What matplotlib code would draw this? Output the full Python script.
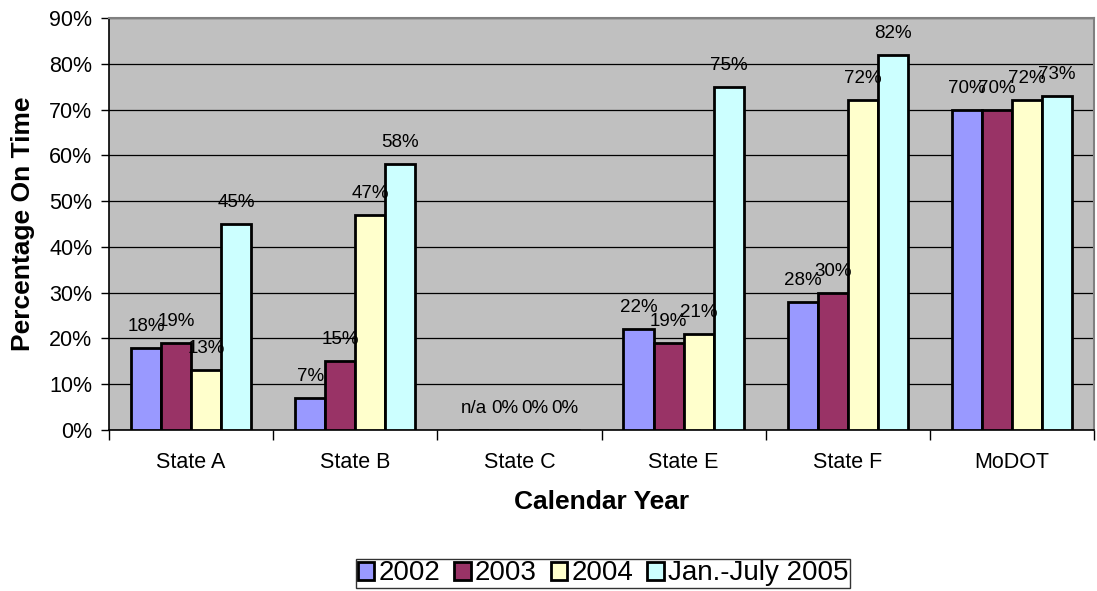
import matplotlib
matplotlib.use("Agg")
import matplotlib.pyplot as plt
import numpy as np
from matplotlib.ticker import FixedLocator, NullFormatter, FuncFormatter

plt.rcParams['font.family'] = ['Liberation Sans', 'DejaVu Sans']

categories = ["State A", "State B", "State C", "State E", "State F", "MoDOT"]
series_names = ["2002", "2003", "2004", "Jan.-July 2005"]
v2002 = [18, 7, 0, 22, 28, 70]
v2003 = [19, 15, 0, 19, 30, 70]
v2004 = [13, 47, 0, 21, 72, 72]
v2005 = [45, 58, 0, 75, 82, 73]
labels2002 = ["18%", "7%", "n/a", "22%", "28%", "70%"]
labels2003 = ["19%", "15%", "0%", "19%", "30%", "70%"]
labels2004 = ["13%", "47%", "0%", "21%", "72%", "72%"]
labels2005 = ["45%", "58%", "0%", "75%", "82%", "73%"]
colors = ["#9999FF", "#993366", "#FFFFCC", "#CCFFFF"]

values = [v2002, v2003, v2004, v2005]
labels = [labels2002, labels2003, labels2004, labels2005]

fig = plt.figure(figsize=(10.97, 5.91), dpi=100)
ax = fig.add_axes([109/1097, 1-430/591, (1094-109)/1097, (430-18)/591])
ax.set_facecolor("#C0C0C0")

n = len(categories)
x = np.arange(n)
bw = 0.183
handles = []
for i, (vals, labs, col, name) in enumerate(zip(values, labels, colors, series_names)):
    pos = x + (i - 1.5) * bw
    h = ax.bar(pos, vals, width=bw, color=col, edgecolor="black", linewidth=2.0,
               label=name, zorder=3)
    handles.append(h)
    for p, v, lab in zip(pos, vals, labs):
        ax.annotate(lab, (p, v), xytext=(0, 15.5), textcoords="offset points",
                    ha="center", va="center", fontsize=13.5, zorder=5)

ax.set_xlim(-0.5, n - 0.5)
ax.set_ylim(0, 90)
ax.set_yticks(np.arange(0, 91, 10))
ax.yaxis.set_major_formatter(FuncFormatter(lambda v, p: f"{int(v)}%"))
ax.yaxis.grid(True, color="black", linewidth=0.9, zorder=1)
ax.set_axisbelow(True)

ax.xaxis.set_major_locator(FixedLocator(np.arange(-0.5, n, 1.0)))
ax.xaxis.set_major_formatter(NullFormatter())
ax.xaxis.set_minor_locator(FixedLocator(x))
ax.set_xticklabels(categories, minor=True)
ax.tick_params(axis="x", which="minor", length=0, labelsize=15.5, pad=16)
ax.tick_params(axis="x", which="major", length=7, width=1, direction="out")
ax.tick_params(axis="y", length=6, width=1, direction="out", labelsize=15.5, pad=6)

for s in ["top", "right"]:
    ax.spines[s].set_color("#808080")
    ax.spines[s].set_linewidth(1.5)
for s in ["left", "bottom"]:
    ax.spines[s].set_color("black")
    ax.spines[s].set_linewidth(1.2)

ax.set_xlabel("Calendar Year", fontsize=19, fontweight="bold", labelpad=12)
ax.set_ylabel("Percentage On Time", fontsize=19, fontweight="bold", labelpad=10)

leg = fig.legend(handles=handles, labels=series_names, loc="center",
                 bbox_to_anchor=(603/1097, 1-573.5/591), ncol=4, fontsize=20,
                 frameon=True, fancybox=False, edgecolor="black",
                 handlelength=0.6, handleheight=0.6, handletextpad=0.15,
                 columnspacing=0.5, borderpad=0.05, borderaxespad=0)
leg.get_frame().set_linewidth(1.0)

fig.savefig("out.png", dpi=100)
